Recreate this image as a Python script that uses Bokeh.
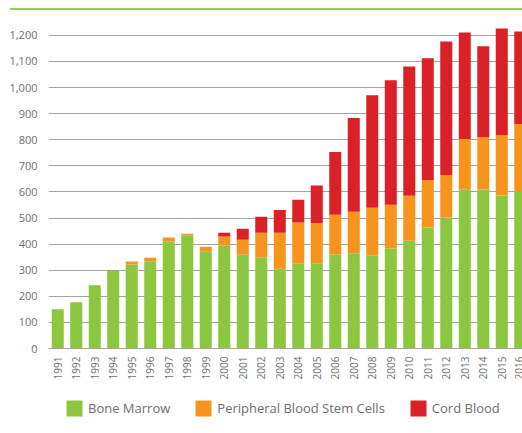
from bokeh.plotting import figure
from bokeh.models import (Range1d, FixedTicker, NumeralTickFormatter, Legend, LegendItem, Div)
from bokeh.layouts import column
from bokeh.embed import file_html
from bokeh.resources import INLINE
from math import pi

years = list(range(1991, 2017))
bone_marrow = [150, 177, 242, 299, 322, 334, 411, 434, 373, 396, 359, 350, 306,
               327, 327, 360, 365, 357, 383, 413, 464, 502, 609, 609, 586, 602]
pbsc = [0, 0, 0, 0, 11, 14, 14, 6, 17, 33, 58, 94, 138,
        156, 153, 153, 159, 182, 168, 172, 182, 163, 194, 201, 232, 258]
cord_blood = [0, 0, 0, 0, 0, 0, 0, 0, 0, 15, 42, 61, 87,
              87, 145, 240, 359, 432, 477, 496, 466, 512, 408, 348, 408, 355]
series_names = ["Bone Marrow", "Peripheral Blood Stem Cells", "Cord Blood"]
colors = ["#8DC63F", "#F7941D", "#DA2128"]
y_ticks = list(range(0, 1300, 100))

source = dict(year=years, bm=bone_marrow, pb=pbsc, cb=cord_blood)

FONT = "Open Sans"
GRAY = "#6d6e71"

# main chart
p = figure(width=522, height=372, output_backend="svg", toolbar_location=None,
           x_range=Range1d(1990.5, 2016.12), y_range=Range1d(0, 1257),
           min_border_left=48, min_border_right=0, min_border_top=10,
           min_border_bottom=33)
p.outline_line_color = None

p.vbar_stack(["bm", "pb", "cb"], x="year", width=0.65, color=colors,
             line_color=None, source=source)

p.xgrid.grid_line_color = None
p.ygrid.grid_line_color = "#a3a3a3"
p.ygrid.grid_line_width = 1.2
p.ygrid.ticker = FixedTicker(ticks=y_ticks)

p.yaxis.ticker = FixedTicker(ticks=y_ticks)
p.yaxis.formatter = NumeralTickFormatter(format="0,0")
p.yaxis.axis_line_color = None
p.yaxis.major_tick_line_color = None
p.yaxis.minor_tick_line_color = None
p.yaxis.major_label_text_font = FONT
p.yaxis.major_label_text_font_size = "11px"
p.yaxis.major_label_text_color = GRAY
p.yaxis.major_label_standoff = 5

p.xaxis.ticker = FixedTicker(ticks=years)
p.xaxis.axis_line_color = "#a3a3a3"
p.xaxis.axis_line_width = 1.2
p.xaxis.major_tick_line_color = None
p.xaxis.minor_tick_line_color = None
p.xaxis.major_label_orientation = pi / 2
p.xaxis.major_label_text_font = FONT
p.xaxis.major_label_text_font_size = "10px"
p.xaxis.major_label_text_color = GRAY
p.xaxis.major_label_standoff = 2

# legend strip (its swatch renderers sit outside the visible range)
lg = figure(width=522, height=51, output_backend="svg", toolbar_location=None,
            x_range=Range1d(0, 1), y_range=Range1d(0, 1),
            x_axis_location=None, y_axis_location=None, min_border=0)
lg.outline_line_color = None
lg.grid.visible = False
swatches = lg.vbar_stack(["bm", "pb", "cb"], x="year", width=0.65, color=colors,
                         line_color=None, source=source)
legend = Legend(items=[LegendItem(label=n, renderers=[r]) for n, r in zip(series_names, swatches)],
                orientation="horizontal", location=(16, 15), margin=0, padding=10,
                glyph_width=20, glyph_height=20, spacing=23, label_standoff=4,
                label_text_font=FONT, label_text_font_size="13px",
                label_text_color=GRAY, border_line_color=None,
                background_fill_alpha=0)
lg.add_layout(legend, "center")

top_line = Div(text="", width=512, height=2, margin=(8, 0, 0, 10),
               styles={"background-color": "#92D050"})

layout = column(top_line, p, lg, spacing=0)
open("out.html", "w").write(file_html(layout, INLINE))
